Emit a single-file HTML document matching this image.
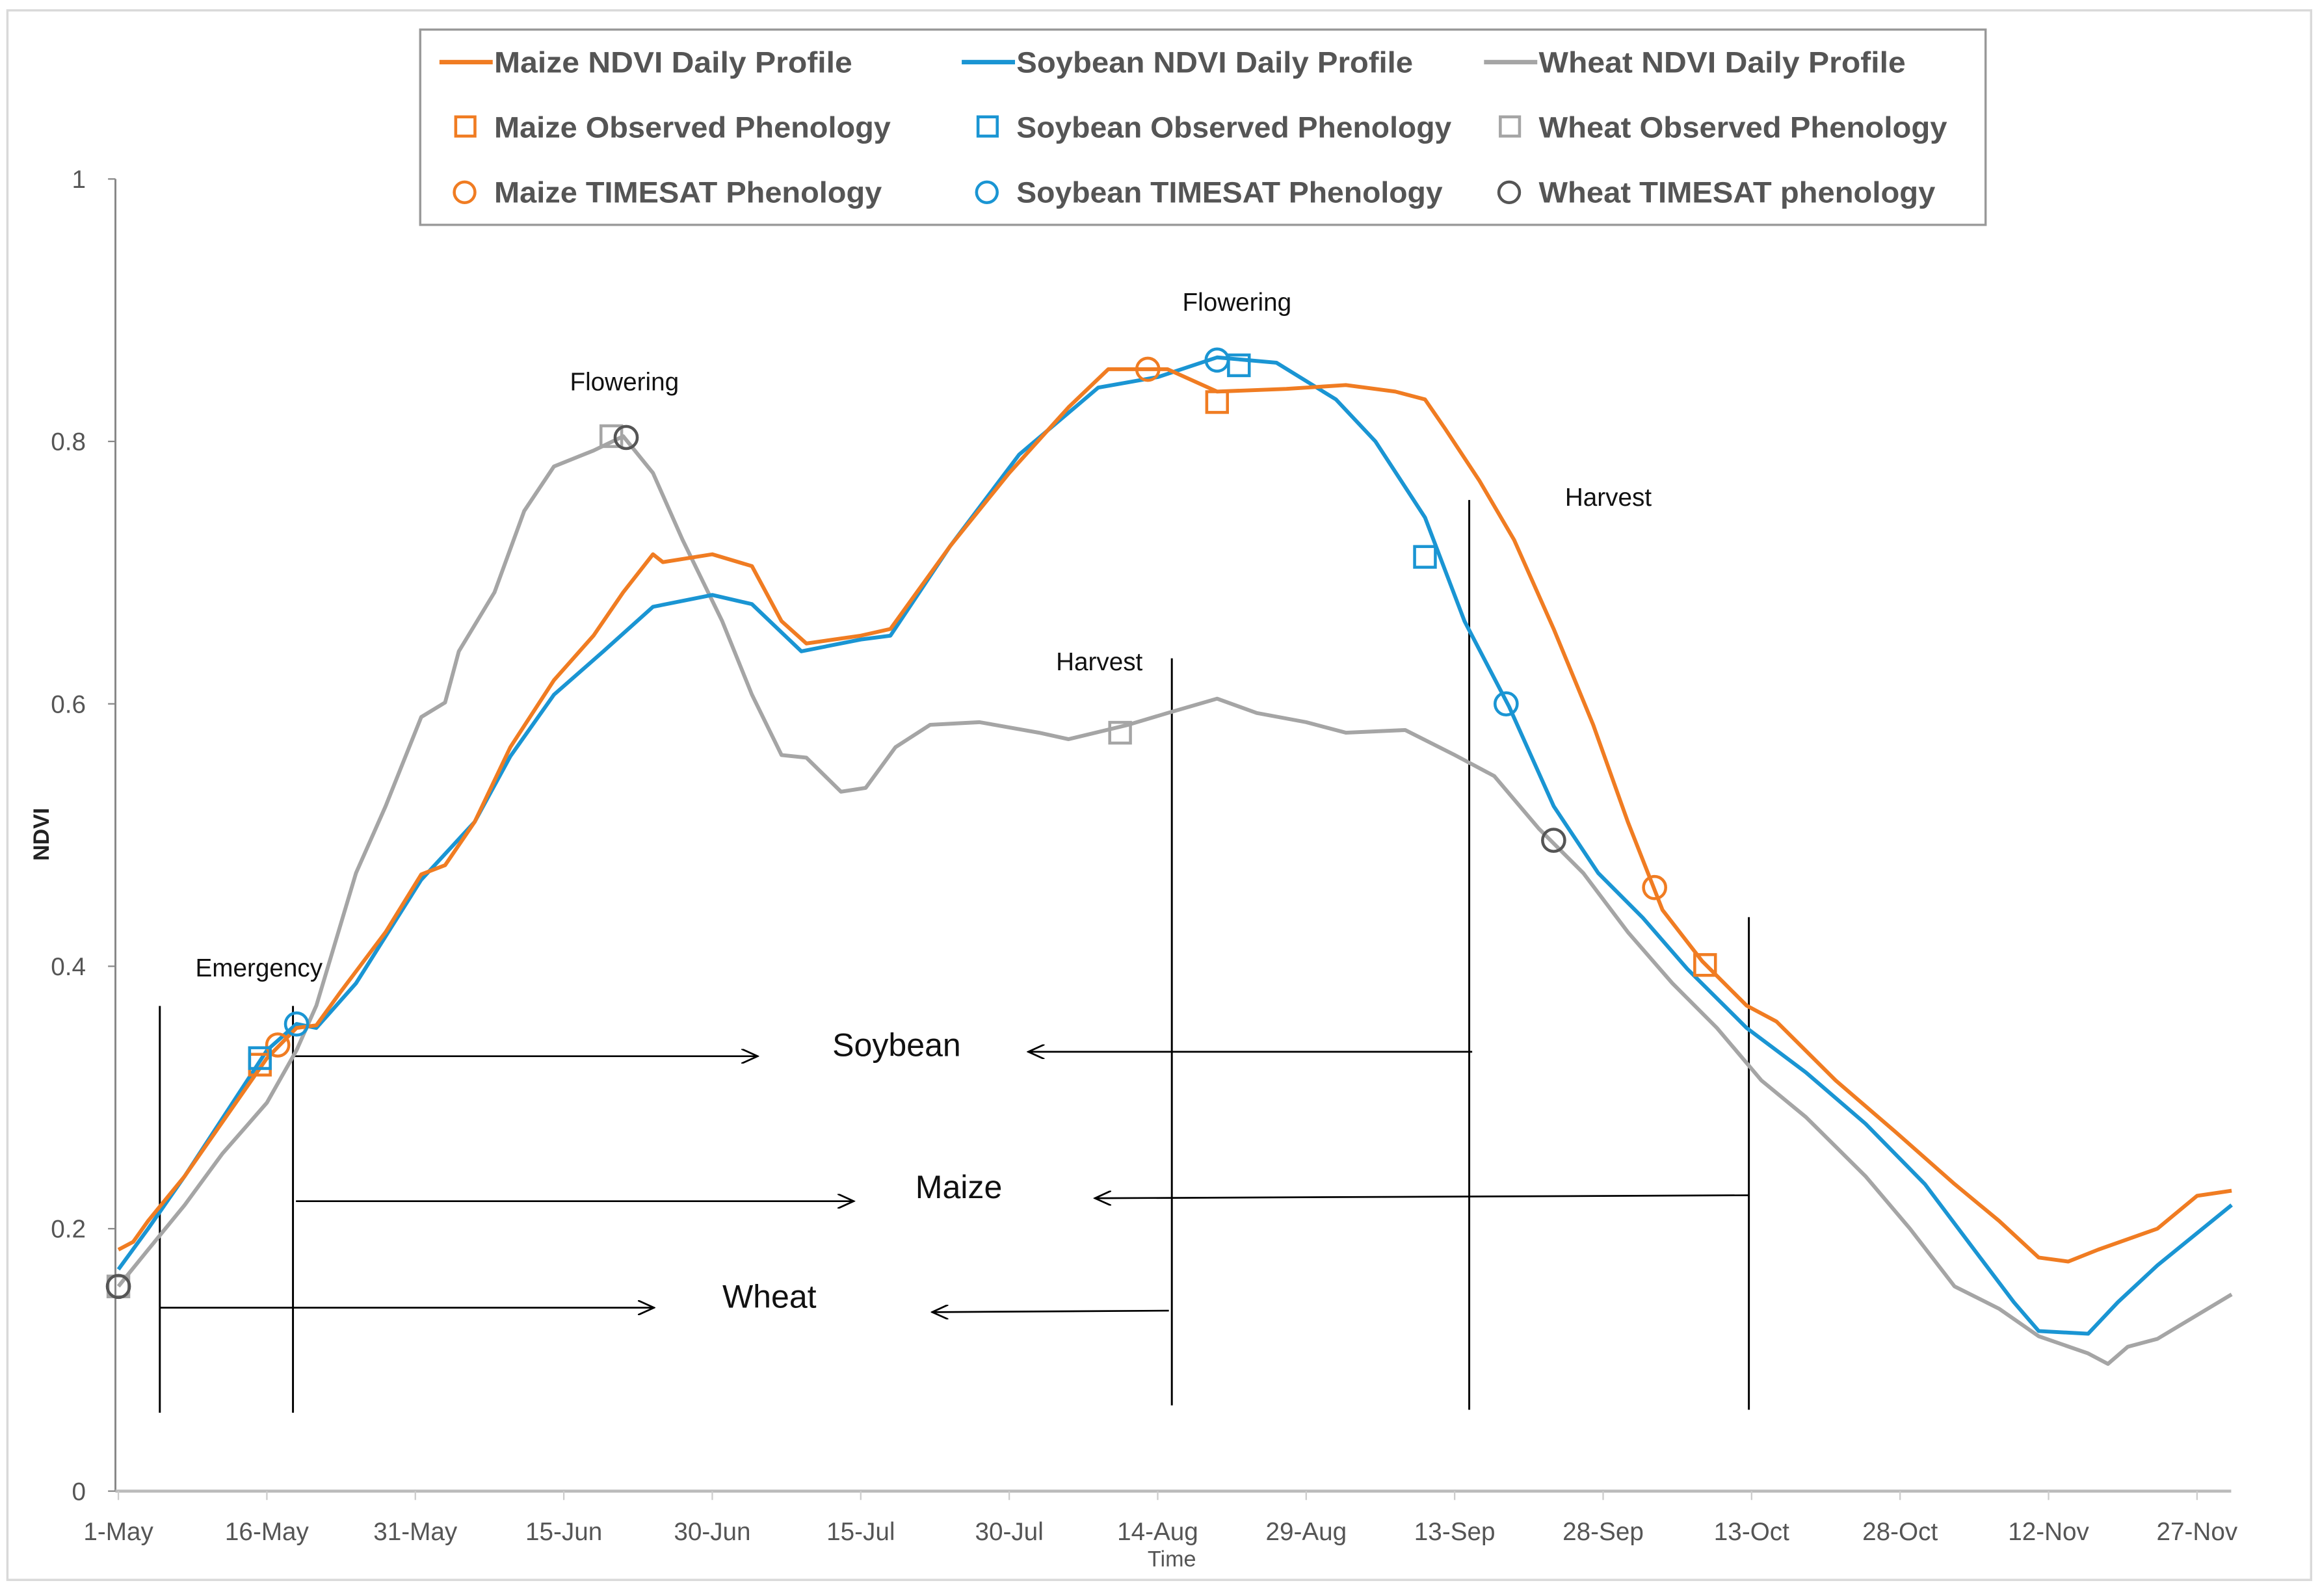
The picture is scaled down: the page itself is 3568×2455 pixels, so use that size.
<!DOCTYPE html>
<html><head><meta charset="utf-8"><style>
html,body{margin:0;padding:0;background:#fff;}
svg{display:block;font-family:"Liberation Sans",sans-serif;}
</style></head><body>
<svg id="chart" width="3568" height="2455" viewBox="0 0 1568 1078.9" xmlns="http://www.w3.org/2000/svg">
<rect x="5" y="7" width="1557" height="1061" fill="#fff" stroke="#d9d9d9" stroke-width="1.5"/>
<g id="axes"></g>
<g id="annot"></g>
<g id="series"></g>
<g id="markers"></g>
<g id="legend"></g>
</svg>
<script>
const xTickLabels=["1-May","16-May","31-May","15-Jun","30-Jun","15-Jul","30-Jul","14-Aug","29-Aug","13-Sep","28-Sep","13-Oct","28-Oct","12-Nov","27-Nov"];
const yTickValues=[0,0.2,0.4,0.6,0.8,1];
const yTickLabels=["0","0.2","0.4","0.6","0.8","1"];
const maizeDays=[0,1.5,3,6.7,15,18,20,22.4,27,30.6,33,36,39.6,44,48,51,54,55,60,64,67,69.5,75,78,84,90,96,100,106,111,118,124,129,132,134,137.5,141,145,149,152.5,156,160,164.5,167.5,173.5,179.5,185.5,190,194,197,200,206,210,213.5];
const maizeVals=[0.184,0.19,0.206,0.24,0.33,0.353,0.355,0.38,0.426,0.47,0.477,0.51,0.567,0.618,0.652,0.685,0.714,0.708,0.714,0.705,0.663,0.646,0.652,0.657,0.72,0.776,0.826,0.855,0.855,0.838,0.84,0.843,0.838,0.832,0.81,0.77,0.725,0.657,0.584,0.51,0.443,0.404,0.37,0.358,0.313,0.274,0.234,0.206,0.178,0.175,0.184,0.2,0.225,0.229];
const soyDays=[0,3,6.7,15,18,20,24,30.6,36,39.6,44,49,54,60,64,69,75,78,84,91,99,105,111,117,123,127,132,136,140.5,145,149.5,154,158.5,164.5,170.5,176.5,182.5,187,191.5,194,199,202,206,213.5];
const soyVals=[0.169,0.2,0.24,0.336,0.356,0.353,0.387,0.466,0.51,0.56,0.607,0.64,0.674,0.683,0.676,0.64,0.649,0.652,0.72,0.79,0.841,0.849,0.864,0.86,0.832,0.8,0.742,0.663,0.598,0.522,0.471,0.437,0.398,0.353,0.319,0.28,0.234,0.189,0.144,0.122,0.12,0.144,0.172,0.218];
const wheatDays=[0,3,6.7,10.5,15,18,20,24,27,30.6,33,34.4,38,41,44,48,51,54,57,61,64,67,69.5,73,75.5,78.5,82,87,93,96,102,106,111,115,120,124,130,135,139,143.5,148,152.5,157,161.5,166,170.5,176.5,181,185.5,190,194,199,201,203,206,213.5];
const wheatVals=[0.156,0.184,0.218,0.257,0.296,0.336,0.37,0.471,0.522,0.59,0.601,0.64,0.685,0.747,0.781,0.793,0.804,0.776,0.725,0.663,0.607,0.561,0.559,0.533,0.536,0.567,0.584,0.586,0.578,0.573,0.584,0.593,0.604,0.593,0.586,0.578,0.58,0.561,0.545,0.505,0.471,0.426,0.387,0.353,0.313,0.285,0.24,0.2,0.156,0.139,0.118,0.105,0.097,0.11,0.116,0.15];
const maizeObsDays=[14.3,111,160.3];const maizeObsVals=[0.325,0.83,0.401];
const maizeTsDays=[16.1,104,155.2];const maizeTsVals=[0.34,0.855,0.46];
const soyObsDays=[14.3,113.2,132];const soyObsVals=[0.33,0.858,0.712];
const soyTsDays=[18,111,140.2];const soyTsVals=[0.356,0.862,0.6];
const wheatObsDays=[0,49.8,101.2];const wheatObsVals=[0.156,0.804,0.578];
const wheatTsDays=[0,51.3,145];const wheatTsVals=[0.156,0.803,0.496];

const NS="http://www.w3.org/2000/svg";
const X0=80,DX=6.69,Y0=1008,H=887;
const xs=d=>X0+d*DX, ys=v=>Y0-v*H;
function mk(tag,attrs,parent,text){const e=document.createElementNS(NS,tag);for(const k in attrs)e.setAttribute(k,attrs[k]);if(text!==undefined)e.textContent=text;parent.appendChild(e);return e;}
const C={maize:"#F07C22",soy:"#1A95D3",wheat:"#A5A5A5",dark:"#555"};

// axes
const ax=document.getElementById('axes');
let e=mk('line',{x1:78,y1:121,x2:78,y2:1008,stroke:'#888','stroke-width':1.3},ax);


e=mk('line',{x1:78,y1:1008,x2:1508,y2:1008,stroke:'#bbb','stroke-width':2},ax);


yTickValues.forEach((v,i)=>{
  mk('line',{x1:73,y1:ys(v),x2:78,y2:ys(v),stroke:'#888','stroke-width':1},ax);
  const t=mk('text',{x:58,y:ys(v)+6,'font-size':17,'text-anchor':'end',fill:'#555'},ax,yTickLabels[i]);
  
  
});
xTickLabels.forEach((l,i)=>{
  const x=xs(i*15);
  mk('line',{x1:x,y1:1008,x2:x,y2:1014,stroke:'#ccc','stroke-width':1},ax);
  const t=mk('text',{x:x,y:1041,'font-size':17,'text-anchor':'middle',fill:'#555'},ax,l);
  
  
});
e=mk('text',{x:792,y:1059,'font-size':15,'text-anchor':'middle',fill:'#555'},ax,'Time');


e=mk('text',{x:0,y:0,'font-size':15,'font-weight':'bold','text-anchor':'middle',fill:'#222',transform:'translate(33,564) rotate(-90)'},ax,'NDVI');



// annotations
const an=document.getElementById('annot');
mk('defs',{},an).innerHTML='<marker id="ah" markerWidth="12" markerHeight="10" refX="11" refY="5" orient="auto" markerUnits="userSpaceOnUse"><path d="M0,0 L11,5 L0,10" fill="none" stroke="#000" stroke-width="1.2"/></marker>';
[[108,680,955],[198,680,955],[792,445,950],[993,338,953],[1182,620,953]].forEach(v=>{
  const l=mk('line',{x1:v[0],y1:v[1],x2:v[0],y2:v[2],stroke:'#000','stroke-width':1.3},an);
  
  
});
[[198,714,512,714],[995,711,695,711],[200,812,577,812],[1182,808,740,810],[108,884,442,884],[790,886,630,887]].forEach(a=>{
  const l=mk('line',{x1:a[0],y1:a[1],x2:a[2],y2:a[3],stroke:'#000','stroke-width':1.2,'marker-end':'url(#ah)'},an);
  
  
});
[["Soybean",606,714,22],["Maize",648,810,22],["Wheat",520,884,22],["Emergency",175,660,17],["Flowering",422,264,17],["Flowering",836,210,17],["Harvest",743,453,17],["Harvest",1087,342,17]].forEach(a=>{
  const t=mk('text',{x:a[1],y:a[2],'font-size':a[3],'text-anchor':'middle',fill:'#111'},an,a[0]);
  
  
});

// series
const sg=document.getElementById('series');
function line(days,vals,col,name){
  const d=days.map((x,i)=>(i?'L':'M')+xs(x).toFixed(1)+','+ys(vals[i]).toFixed(1)).join(' ');
  const p=mk('path',{d:d,fill:'none',stroke:col,'stroke-width':2.6,'stroke-linejoin':'round'},sg);
  
  
}
line(wheatDays,wheatVals,C.wheat,'wheat-ndvi-line');
line(soyDays,soyVals,C.soy,'soybean-ndvi-line');
line(maizeDays,maizeVals,C.maize,'maize-ndvi-line');

const mg=document.getElementById('markers');
function sq(days,vals,col,name){days.forEach((d,i)=>{const r=mk('rect',{x:xs(d)-7,y:ys(vals[i])-7,width:14,height:14,fill:'none',stroke:col,'stroke-width':2},mg);
  
  });}
function ci(days,vals,col,name){days.forEach((d,i)=>{const r=mk('circle',{cx:xs(d),cy:ys(vals[i]),r:7.5,fill:'none',stroke:col,'stroke-width':2},mg);
  
  });}
sq(wheatObsDays,wheatObsVals,C.wheat,'wheat-observed-marker');
ci(wheatTsDays,wheatTsVals,C.dark,'wheat-timesat-marker');
sq(maizeObsDays,maizeObsVals,C.maize,'maize-observed-marker');
ci(maizeTsDays,maizeTsVals,C.maize,'maize-timesat-marker');
sq(soyObsDays,soyObsVals,C.soy,'soybean-observed-marker');
ci(soyTsDays,soyTsVals,C.soy,'soybean-timesat-marker');

// legend
const lg=document.getElementById('legend');
mk('rect',{x:284,y:20,width:1058,height:132,fill:'#fff',stroke:'#999','stroke-width':1.5},lg);
const cols=[297,650,1003];
const ent=[
 [["Maize NDVI Daily Profile","line",C.maize],["Soybean NDVI Daily Profile","line",C.soy],["Wheat NDVI Daily Profile","line",C.wheat]],
 [["Maize Observed Phenology","sq",C.maize],["Soybean Observed Phenology","sq",C.soy],["Wheat Observed Phenology","sq",C.wheat]],
 [["Maize TIMESAT Phenology","ci",C.maize],["Soybean TIMESAT Phenology","ci",C.soy],["Wheat TIMESAT phenology","ci",C.dark]]];
const rowsY=[42,86,130];
ent.forEach((row,r)=>row.forEach((en,c)=>{
  const g=mk('g',{},lg);
  
  
  const x=cols[c],y=rowsY[r];
  if(en[1]=='line')mk('line',{x1:x,y1:y,x2:x+36,y2:y,stroke:en[2],'stroke-width':3},g);
  else if(en[1]=='sq')mk('rect',{x:x+11,y:y-7,width:13,height:13,fill:'none',stroke:en[2],'stroke-width':2},g);
  else mk('circle',{cx:x+17,cy:y,r:7,fill:'none',stroke:en[2],'stroke-width':2},g);
  const tl=[242,268,248,268,294,276,262,288,268][r*3+c];
  mk('text',{x:x+37,y:y+7,'font-size':20,'font-weight':'bold',fill:'#555',textLength:tl,lengthAdjust:'spacingAndGlyphs'},g,en[0]);
}));
</script>
</body></html>
